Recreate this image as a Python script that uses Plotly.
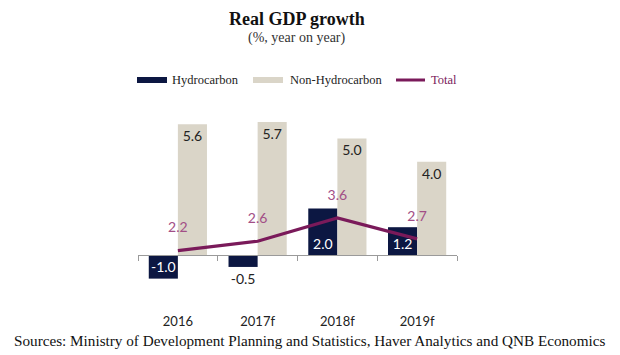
import plotly.graph_objects as go

categories = ["2016", "2017f", "2018f", "2019f"]
hydrocarbon = [-1.0, -0.5, 2.0, 1.2]
non_hydrocarbon = [5.6, 5.7, 5.0, 4.0]
total = [2.2, 2.6, 3.6, 2.7]
series_names = ["Hydrocarbon", "Non-Hydrocarbon", "Total"]

NAVY = "#0C1742"
BEIGE = "#DAD5C8"
PURPLE = "#7A1A5A"
PURPLE_TXT = "#A24E86"
SERIF = "Liberation Serif"
SANS = "Lato"

# page body has an 8px margin: figure is sized to fill the remaining window
OFF = 8
W, H = 620 - OFF, 355 - OFF
L, R, T, B = 130, 163, 107, 53
PW, PH = W - L - R, H - T - B


def px(x):
    return (x - OFF - L) / PW


def py(y):
    return (H - B - (y - OFF)) / PH


fig = go.Figure()

fig.add_trace(go.Bar(
    x=categories, y=hydrocarbon, name=series_names[0],
    marker=dict(color=NAVY, line=dict(width=0)),
    text=[f"{v:.1f}" for v in hydrocarbon],
    textposition=["inside", "outside", "inside", "inside"],
    insidetextanchor="start",
    insidetextfont=dict(color="white", size=14, family=SANS),
    outsidetextfont=dict(color="#222222", size=14, family=SANS),
    constraintext="none", cliponaxis=False, showlegend=False,
))
fig.add_trace(go.Bar(
    x=categories, y=non_hydrocarbon, name=series_names[1],
    marker=dict(color=BEIGE, line=dict(width=0)),
    text=[f"{v:.1f}" for v in non_hydrocarbon],
    textposition="inside", insidetextanchor="end",
    insidetextfont=dict(color="#222222", size=14, family=SANS),
    constraintext="none", showlegend=False,
))
fig.add_trace(go.Scatter(
    x=categories, y=total, name=series_names[2], yaxis="y2",
    mode="lines+markers+text",
    line=dict(color=PURPLE, width=3.2),
    marker=dict(size=22, color="rgba(0,0,0,0)"),
    text=[f"{v:.1f}" for v in total],
    textposition="top center",
    textfont=dict(color=PURPLE_TXT, size=14, family=SANS),
    cliponaxis=False, showlegend=False,
))

# dummy trace so the zero-line axis (xaxis2) is rendered
fig.add_trace(go.Scatter(x=categories, y=[None] * 4, xaxis="x2",
                         showlegend=False, hoverinfo="skip"))

annotations = [
    dict(text="<b>Real GDP growth</b>", x=px(297), y=py(19),
         font=dict(family=SERIF, size=18, color="#111111")),
    dict(text="(%, year on year)", x=px(297), y=py(38),
         font=dict(family=SERIF, size=14, color="#333333")),
    dict(text="Sources: Ministry of Development Planning and Statistics, Haver Analytics and QNB Economics",
         x=px(309), y=py(340),
         font=dict(family=SERIF, size=15.2, color="#111111")),
]
for a in annotations:
    a.update(xref="paper", yref="paper", showarrow=False, xanchor="center", yanchor="middle")

# custom legend
shapes = []
leg_items = [
    (series_names[0], "rect", NAVY, 137, 167, 170),
    (series_names[1], "rect", BEIGE, 253, 283, 288),
    (series_names[2], "line", PURPLE, 396, 425, 429),
]
for name, kind, col, x0, x1, tx in leg_items:
    if kind == "rect":
        shapes.append(dict(type="rect", xref="paper", yref="paper",
                           x0=px(x0), x1=px(x1), y0=py(83), y1=py(77),
                           fillcolor=col, line=dict(width=0)))
    else:
        shapes.append(dict(type="line", xref="paper", yref="paper",
                           x0=px(x0), x1=px(x1), y0=py(80), y1=py(80),
                           line=dict(color=col, width=3)))
    annotations.append(dict(text=name, x=px(tx), y=py(80), xref="paper", yref="paper",
                            showarrow=False, xanchor="left", yanchor="middle",
                            font=dict(family=SERIF, size=12.5,
                                      color=PURPLE if kind == "line" else "#222222")))

fig.update_layout(
    width=W, height=H,
    margin=dict(l=L, r=R, t=T, b=B, autoexpand=False),
    paper_bgcolor="white", plot_bgcolor="white",
    barmode="group", bargap=0.27, bargroupgap=0,
    showlegend=False,
    xaxis=dict(showline=False, ticks="", showgrid=False, zeroline=False,
               tickfont=dict(family=SANS, size=13, color="#222222"),
               ticklabelstandoff=10, range=[-0.5, 3.5]),
    xaxis2=dict(matches="x", overlaying="x", anchor="free", position=0.25,
                showline=True, linecolor="#9A9A9A", linewidth=1,
                ticks="outside", ticklen=5, tickcolor="#9A9A9A",
                tickson="boundaries", showticklabels=False, showgrid=False),
    yaxis=dict(range=[-2, 6], visible=False, showgrid=False, zeroline=False),
    yaxis2=dict(range=[0, 8], overlaying="y", visible=False, showgrid=False, zeroline=False),
    annotations=annotations,
    shapes=shapes,
)

fig.write_html("out.html")
